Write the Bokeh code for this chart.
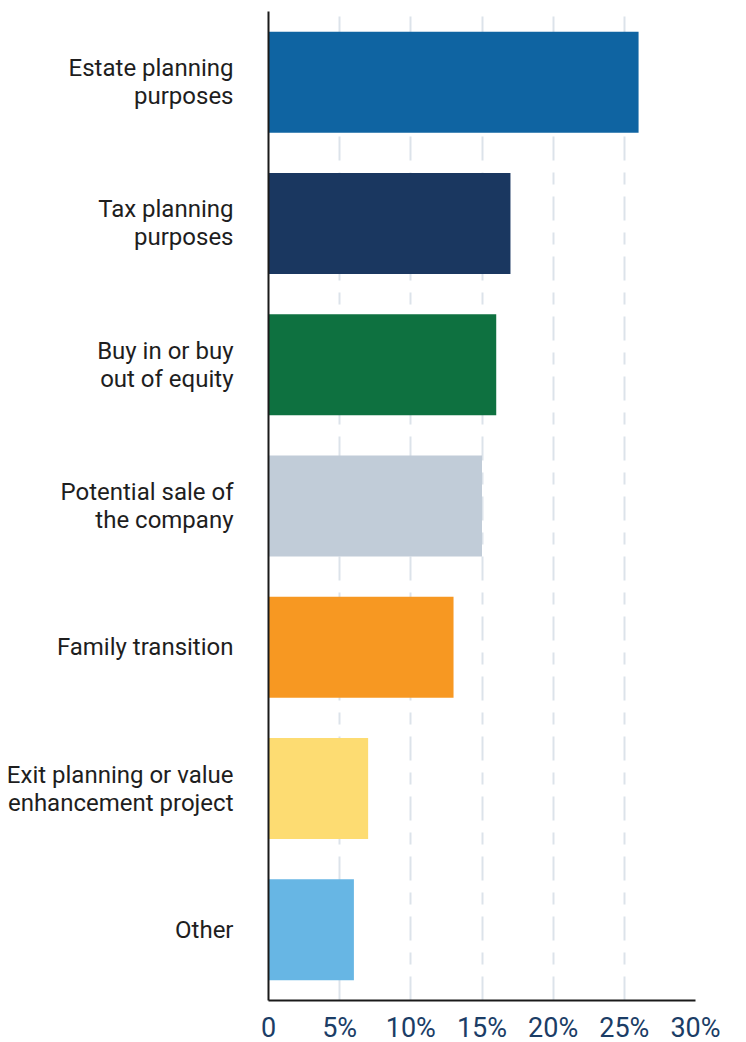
from bokeh.plotting import figure
from bokeh.models import ColumnDataSource, FactorRange, Range1d, FixedTicker
from bokeh.embed import file_html
from bokeh.resources import INLINE

categories = [
    "Estate planning\npurposes",
    "Tax planning\npurposes",
    "Buy in or buy\nout of equity",
    "Potential sale of\nthe company",
    "Family transition",
    "Exit planning or value\nenhancement project",
    "Other",
]
values = [26, 17, 16, 15, 13, 7, 6]
colors = ["#0f64a2", "#1a3760", "#0e7140", "#c1ccd8", "#f79822", "#fddc72", "#67b6e4"]
tick_values = [0, 5, 10, 15, 20, 25, 30]
tick_labels = ["0", "5%", "10%", "15%", "20%", "25%", "30%"]

src = ColumnDataSource(dict(cat=categories, val=values, color=colors))

p = figure(
    y_range=FactorRange(factors=list(reversed(categories))),
    x_range=Range1d(0, 30),
    frame_width=427, frame_height=989,
    min_border_left=268, min_border_right=40, min_border_top=11, min_border_bottom=38,
    output_backend="svg", toolbar_location=None,
)
p.outline_line_color = None
p.background_fill_color = "white"
p.border_fill_color = "white"

p.hbar(y="cat", right="val", left=0, height=0.715, fill_color="color", line_color=None, source=src)

# x axis
p.xaxis.ticker = FixedTicker(ticks=tick_values)
p.xaxis.major_label_overrides = {v: l for v, l in zip(tick_values, tick_labels)}
p.xaxis.major_label_text_font = "Roboto"
p.xaxis.major_label_text_font_size = "27px"
p.xaxis.major_label_text_color = "#1b3d66"
p.xaxis.major_label_standoff = 5
p.xaxis.major_tick_line_color = None
p.xaxis.minor_tick_line_color = None
p.xaxis.axis_line_color = "#1a1a1a"
p.xaxis.axis_line_width = 2

# y axis with category labels
p.yaxis.major_label_text_font = "Roboto"
p.yaxis.major_label_text_font_size = "24px"
p.yaxis.major_label_text_color = "#1e1e1e"
p.yaxis.major_label_text_align = "right"
p.yaxis.major_label_text_line_height = 1.0
p.yaxis.major_label_standoff = 29
p.yaxis.major_tick_line_color = None
p.yaxis.minor_tick_line_color = None
p.yaxis.axis_line_color = "#1a1a1a"
p.yaxis.axis_line_width = 2

p.ygrid.grid_line_color = None
p.xgrid.grid_line_color = "#dce3ea"
p.xgrid.grid_line_width = 2
p.xgrid.grid_line_dash = "24 12 12 12"

open("out.html", "w").write(file_html(p, INLINE))
